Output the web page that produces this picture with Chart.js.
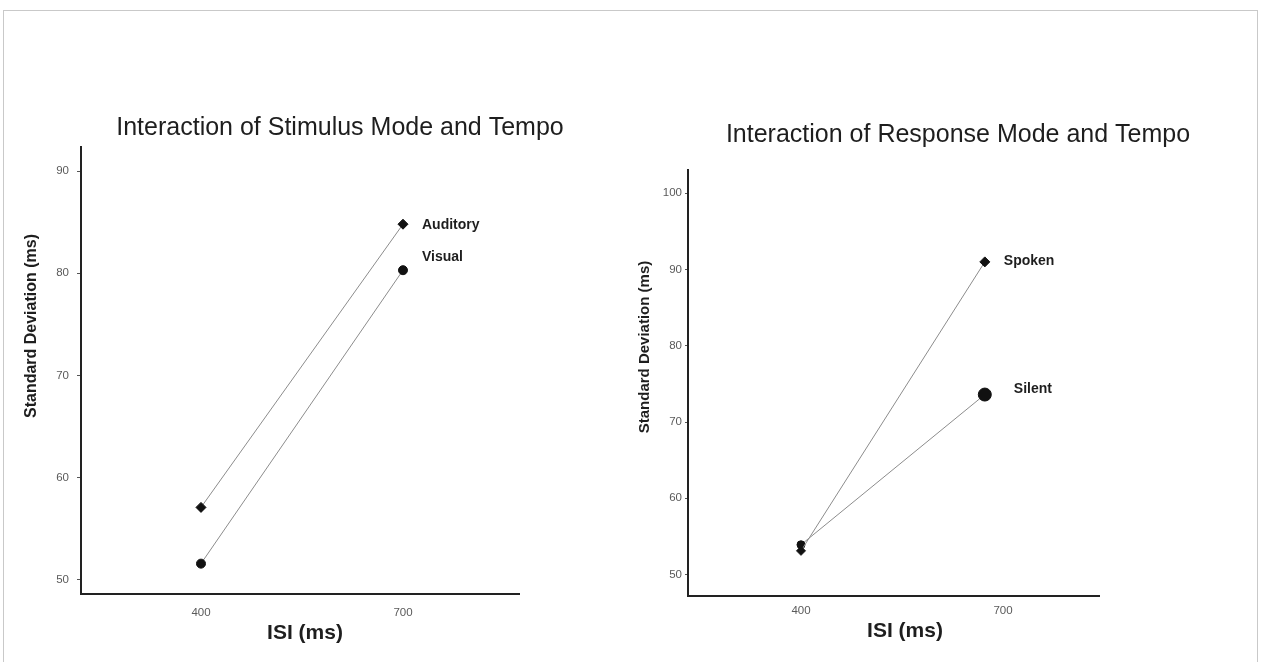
<!DOCTYPE html>
<html>
<head>
<meta charset="utf-8">
<title>ISI interaction plots</title>
<script src="https://cdn.jsdelivr.net/npm/chart.js@4.4.1/dist/chart.umd.min.js"></script>
<style>
  html, body { margin: 0; padding: 0; background: #fff; }
  #page { position: relative; width: 1261px; height: 662px; overflow: hidden; background: #fff; }
  #frame { position: absolute; left: 3px; top: 10px; width: 1253px; height: 680px; border: 1px solid #c9c9c9; }
  canvas { position: absolute; left: 0; top: 0; }
</style>
</head>
<body>
<div id="page">
  <div id="frame"></div>
  <canvas id="stimulus" width="1261" height="662"></canvas>
  <canvas id="response" width="1261" height="662"></canvas>
</div>
<script>
const FONT = "'Liberation Sans', Arial, Helvetica, sans-serif";

// stimulus mode panel
const stimIsi = [400, 700];
const auditorySd = [57.1, 84.8];
const visualSd = [51.6, 80.3];
const stimYTicks = [50, 60, 70, 80, 90];

// response mode panel
const respIsi = [400, 673];
const spokenSd = [53.1, 91.0];
const silentSd = [53.9, 73.6];
const respYTicks = [50, 60, 70, 80, 90, 100];

const isiTicks = [400, 700];

const toPoints = (xs, ys) => xs.map((x, i) => ({ x: x, y: ys[i] }));

// titles, axis names and the series name beside each line's last point
const panelText = {
  id: 'panelText',
  afterDraw(chart, args, opts) {
    const ctx = chart.ctx;
    ctx.save();
    ctx.fillStyle = '#1e1e1e';
    ctx.textBaseline = 'middle';
    ctx.textAlign = 'center';

    ctx.font = '25px ' + FONT;
    ctx.fillText(opts.title, opts.titleAt[0], opts.titleAt[1]);

    ctx.font = 'bold 21px ' + FONT;
    ctx.fillText('ISI (ms)', opts.xTitleAt[0], opts.xTitleAt[1]);

    ctx.save();
    ctx.translate(opts.yTitleAt[0], opts.yTitleAt[1]);
    ctx.rotate(-Math.PI / 2);
    ctx.font = 'bold ' + opts.yTitleSize + 'px ' + FONT;
    ctx.fillText('Standard Deviation (ms)', 0, 0);
    ctx.restore();

    ctx.font = 'bold 14px ' + FONT;
    ctx.textAlign = 'left';
    chart.data.datasets.forEach((ds, i) => {
      const pts = chart.getDatasetMeta(i).data;
      const last = pts[pts.length - 1];
      ctx.fillText(ds.label, last.x + ds.tagOffset[0], last.y + ds.tagOffset[1]);
    });
    ctx.restore();
  }
};

function series(label, xs, ys, style, radius, tagOffset) {
  return {
    label: label,
    data: toPoints(xs, ys),
    showLine: true,
    borderColor: '#8c8c8c',
    borderWidth: 1,
    pointStyle: style,
    pointRadius: radius,
    pointBackgroundColor: '#111',
    pointBorderColor: '#111',
    pointBorderWidth: 1,
    tagOffset: tagOffset
  };
}

function panel(canvasId, cfg) {
  return new Chart(document.getElementById(canvasId), {
    type: 'scatter',
    data: { datasets: cfg.datasets },
    options: {
      responsive: false,
      animation: false,
      layout: { padding: cfg.padding },
      plugins: {
        legend: { display: false },
        tooltip: { enabled: false },
        panelText: cfg.text
      },
      scales: {
        x: {
          type: 'linear',
          min: cfg.xRange[0],
          max: cfg.xRange[1],
          afterBuildTicks: s => { s.ticks = isiTicks.map(v => ({ value: v })); },
          afterFit: s => { s.height = cfg.xAxisHeight; },
          grid: { display: true, drawOnChartArea: false, drawTicks: false },
          border: { display: true, color: '#222', width: 2 },
          ticks: { color: '#5a5a5a', font: { family: FONT, size: 11.5 }, padding: cfg.xPad }
        },
        y: {
          type: 'linear',
          min: cfg.yRange[0],
          max: cfg.yRange[1],
          afterBuildTicks: s => { s.ticks = cfg.yTicks.map(v => ({ value: v })); },
          afterFit: s => { s.width = cfg.yAxisWidth; },
          grid: { display: true, drawOnChartArea: false, drawTicks: true, tickLength: cfg.tickLen, color: '#555', lineWidth: 1 },
          border: { display: true, color: '#222', width: 2 },
          ticks: { color: '#5a5a5a', font: { family: FONT, size: 11.5 }, padding: cfg.yPad }
        }
      }
    },
    plugins: [panelText]
  });
}

panel('stimulus', {
  datasets: [
    series('Auditory', stimIsi, auditorySd, 'rectRot', 5, [19, 1]),
    series('Visual', stimIsi, visualSd, 'circle', 4.5, [19, -13])
  ],
  padding: { left: 0, top: 147, right: 742, bottom: 0 },
  xRange: [221.8, 872.3],
  yRange: [48.63, 92.35],
  yTicks: stimYTicks,
  xAxisHeight: 68,
  yAxisWidth: 81,
  xPad: 12,
  yPad: 8,
  tickLen: 4,
  text: {
    title: 'Interaction of Stimulus Mode and Tempo',
    titleAt: [340, 128],
    xTitleAt: [305, 633],
    yTitleAt: [32, 326],
    yTitleSize: 16
  }
});

panel('response', {
  datasets: [
    series('Spoken', respIsi, spokenSd, 'rectRot', [4.5, 5], [19, -1]),
    series('Silent', respIsi, silentSd, 'circle', [4, 6.5], [29, -5])
  ],
  padding: { left: 600, top: 170, right: 162, bottom: 0 },
  xRange: [232.2, 842.6],
  yRange: [47.18, 103.05],
  yTicks: respYTicks,
  xAxisHeight: 66,
  yAxisWidth: 88,
  xPad: 8,
  yPad: 3,
  tickLen: 3,
  text: {
    title: 'Interaction of Response Mode and Tempo',
    titleAt: [958, 135],
    xTitleAt: [905, 631],
    yTitleAt: [645, 347],
    yTitleSize: 15
  }
});
</script>
</body>
</html>
